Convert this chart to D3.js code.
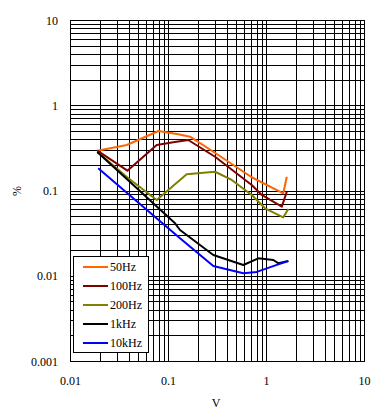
<!DOCTYPE html>
<html>
<head>
<meta charset="utf-8">
<script src="https://cdn.jsdelivr.net/npm/d3@7"></script>
<style>
  html, body { margin: 0; padding: 0; background: #fff; }
  svg { display: block; }
  text { font-family: "Liberation Serif", "Times New Roman", serif; font-size: 12px; fill: #000; }
</style>
</head>
<body>
<svg id="chart" width="390" height="420"></svg>
<script>
// ---- data ----
const xTickLabels = ["0.01", "0.1", "1", "10"];
const yTickLabels = ["0.001", "0.01", "0.1", "1", "10"];
const seriesNames = ["50Hz", "100Hz", "200Hz", "1kHz", "10kHz"];
const seriesColors = ["#FF6600", "#800000", "#808000", "#000000", "#0000FF"];

const v50   = [0.019, 0.038, 0.080, 0.127, 0.168, 0.326, 0.715, 1.50, 1.63];
const pct50 = [0.293, 0.342, 0.499, 0.456, 0.428, 0.261, 0.143, 0.0927, 0.145];

const v100   = [0.019, 0.0385, 0.0767, 0.113, 0.161, 0.302, 0.715, 0.904, 1.45, 1.63];
const pct100 = [0.293, 0.171, 0.342, 0.367, 0.391, 0.249, 0.116, 0.0886, 0.0646, 0.0968];

const v200   = [0.019, 0.0394, 0.0767, 0.155, 0.302, 0.447, 0.715, 0.977, 1.50, 1.69];
const pct200 = [0.283, 0.139, 0.0774, 0.155, 0.166, 0.133, 0.0886, 0.0618, 0.0485, 0.0607];

const v1k   = [0.019, 0.118, 0.1326, 0.290, 0.587, 0.835, 1.19, 1.34, 1.69];
const pct1k = [0.283, 0.0412, 0.0344, 0.0175, 0.01337, 0.0160, 0.0153, 0.0140, 0.0149];

const v10k   = [0.0194, 0.0896, 0.1326, 0.290, 0.587, 0.804, 1.29, 1.69];
const pct10k = [0.182, 0.0405, 0.0275, 0.0130, 0.0107, 0.0111, 0.0134, 0.0149];

const seriesV = [v50, v100, v200, v1k, v10k];
const seriesP = [pct50, pct100, pct200, pct1k, pct10k];

// ---- layout ----
const svg = d3.select("#chart");
const L = 70, R = 364, T = 20, B = 361;

const x = d3.scaleLog().domain([0.01, 10]).range([L, R]);
const y = d3.scaleLog().domain([0.001, 10]).range([B, T]);

// grid lines (1..9 per decade)
function logGrid(lo, hi) {
  const out = [];
  for (let e = Math.round(Math.log10(lo)); e < Math.round(Math.log10(hi)); e++) {
    for (let m = 1; m <= 9; m++) out.push(m * Math.pow(10, e));
  }
  out.push(hi);
  return out;
}
const gx = logGrid(0.01, 10);
const gy = logGrid(0.001, 10);

const grid = svg.append("g").attr("shape-rendering", "crispEdges");
grid.selectAll("line.v").data(gx).join("line")
  .attr("x1", d => Math.round(x(d)) + 0.5).attr("x2", d => Math.round(x(d)) + 0.5)
  .attr("y1", T).attr("y2", B)
  .attr("stroke", "#000").attr("stroke-width", 1);
grid.selectAll("line.h").data(gy).join("line")
  .attr("y1", d => Math.round(y(d)) + 0.5).attr("y2", d => Math.round(y(d)) + 0.5)
  .attr("x1", L).attr("x2", R)
  .attr("stroke", "#000").attr("stroke-width", 1);

// frame
svg.append("rect").attr("x", L + 0.5).attr("y", T + 0.5)
  .attr("width", R - L).attr("height", B - T)
  .attr("fill", "none").attr("stroke", "#000").attr("stroke-width", 1)
  .attr("shape-rendering", "crispEdges");

// axes tick labels via d3 axes
const xAxis = d3.axisBottom(x).tickValues(xTickLabels.map(Number))
  .tickFormat((d, i) => xTickLabels[i]).tickSize(0).tickPadding(0);
const gxA = svg.append("g").attr("transform", `translate(0,${B})`).call(xAxis);
gxA.select(".domain").remove();
gxA.selectAll("text").attr("dy", null).attr("y", 24)
  .style("font-family", '"Liberation Serif", serif').style("font-size", "12px").attr("fill", "#000");

const yAxis = d3.axisLeft(y).tickValues(yTickLabels.map(Number))
  .tickFormat((d, i) => yTickLabels[i]).tickSize(0).tickPadding(0);
const gyA = svg.append("g").attr("transform", `translate(58,0)`).call(yAxis);
gyA.select(".domain").remove();
gyA.selectAll("text").attr("x", 0).attr("dy", "0.35em")
  .style("font-family", '"Liberation Serif", serif').style("font-size", "12px").attr("fill", "#000");

// axis titles
svg.append("text").attr("x", 216).attr("y", 407).attr("text-anchor", "middle").text("V");
svg.append("text").attr("transform", "translate(21,191) rotate(-90)")
  .attr("text-anchor", "middle").text("%");

// series lines
const line = d3.line().x(d => x(d[0])).y(d => y(d[1]));
const plot = svg.append("g");
seriesNames.forEach((name, i) => {
  const pts = seriesV[i].map((v, k) => [v, seriesP[i][k]]);
  plot.append("path").datum(pts)
    .attr("d", line).attr("fill", "none")
    .attr("stroke", seriesColors[i]).attr("stroke-width", 2)
    .attr("stroke-linejoin", "round");
});

// legend
const lg = svg.append("g");
lg.append("rect").attr("x", 73.5).attr("y", 256.5).attr("width", 75).attr("height", 96)
  .attr("fill", "#fff").attr("stroke", "#000").attr("stroke-width", 1)
  .attr("shape-rendering", "crispEdges");
seriesNames.forEach((name, i) => {
  const yy = 267 + i * 19;
  lg.append("line").attr("x1", 83).attr("x2", 108).attr("y1", yy).attr("y2", yy)
    .attr("stroke", seriesColors[i]).attr("stroke-width", 2);
  lg.append("text").attr("x", 110).attr("y", yy).attr("dy", "0.35em").text(name);
});
</script>
</body>
</html>
